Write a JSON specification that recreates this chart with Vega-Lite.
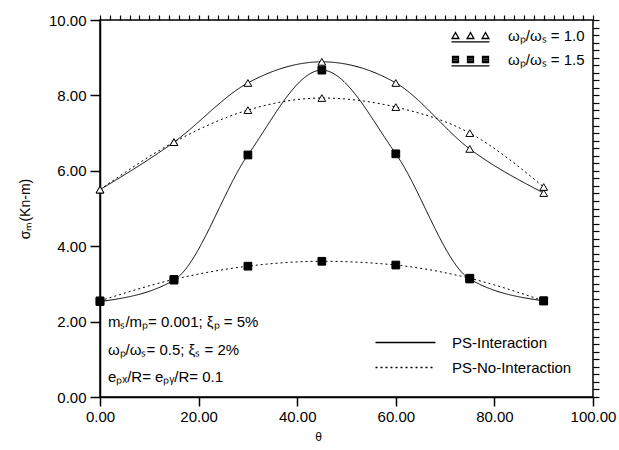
{
  "$schema": "https://vega.github.io/schema/vega-lite/v6.json",
  "width": 493,
  "height": 377,
  "autosize": "none",
  "padding": {"left": 100, "top": 20, "right": 26, "bottom": 53},
  "background": "white",
  "config": {
    "view": {"stroke": "black", "strokeWidth": 1.5},
    "font": "Liberation Sans",
    "axis": {"labelFont": "Liberation Sans", "titleFont": "Liberation Sans", "labelColor": "black", "titleColor": "black", "domainColor": "black", "domainWidth": 1.5, "grid": false, "labelFontSize": 15, "titleFontWeight": "normal", "labelFlush": false, "ticks": true, "tickColor": "black", "tickOpacity": 1, "tickDash": [], "tickCap": "butt", "tickOffset": 0, "zindex": 2},
    "legend": {"labelFont": "Liberation Sans", "labelFontSize": 15, "labelColor": "black", "labelLimit": 300}
  },
  "resolve": {"axis": {"x": "independent", "y": "independent"}, "scale": {"shape": "independent"}},
  "datasets": {
    "curves": [
      {"angle": 0, "sigma": 5.5, "ratio": "ωₚ/ωₛ = 1.0", "model": "PS-Interaction"},
      {"angle": 15, "sigma": 6.76, "ratio": "ωₚ/ωₛ = 1.0", "model": "PS-Interaction"},
      {"angle": 30, "sigma": 8.33, "ratio": "ωₚ/ωₛ = 1.0", "model": "PS-Interaction"},
      {"angle": 45, "sigma": 8.89, "ratio": "ωₚ/ωₛ = 1.0", "model": "PS-Interaction"},
      {"angle": 60, "sigma": 8.33, "ratio": "ωₚ/ωₛ = 1.0", "model": "PS-Interaction"},
      {"angle": 75, "sigma": 6.58, "ratio": "ωₚ/ωₛ = 1.0", "model": "PS-Interaction"},
      {"angle": 90, "sigma": 5.41, "ratio": "ωₚ/ωₛ = 1.0", "model": "PS-Interaction"},
      {"angle": 0, "sigma": 5.5, "ratio": "ωₚ/ωₛ = 1.0", "model": "PS-No-Interaction"},
      {"angle": 15, "sigma": 6.76, "ratio": "ωₚ/ωₛ = 1.0", "model": "PS-No-Interaction"},
      {"angle": 30, "sigma": 7.61, "ratio": "ωₚ/ωₛ = 1.0", "model": "PS-No-Interaction"},
      {"angle": 45, "sigma": 7.93, "ratio": "ωₚ/ωₛ = 1.0", "model": "PS-No-Interaction"},
      {"angle": 60, "sigma": 7.69, "ratio": "ωₚ/ωₛ = 1.0", "model": "PS-No-Interaction"},
      {"angle": 75, "sigma": 7.0, "ratio": "ωₚ/ωₛ = 1.0", "model": "PS-No-Interaction"},
      {"angle": 90, "sigma": 5.57, "ratio": "ωₚ/ωₛ = 1.0", "model": "PS-No-Interaction"},
      {"angle": 0, "sigma": 2.53, "ratio": "ωₚ/ωₛ = 1.5", "model": "PS-Interaction"},
      {"angle": 15, "sigma": 3.1, "ratio": "ωₚ/ωₛ = 1.5", "model": "PS-Interaction"},
      {"angle": 30, "sigma": 6.42, "ratio": "ωₚ/ωₛ = 1.5", "model": "PS-Interaction"},
      {"angle": 45, "sigma": 8.67, "ratio": "ωₚ/ωₛ = 1.5", "model": "PS-Interaction"},
      {"angle": 60, "sigma": 6.45, "ratio": "ωₚ/ωₛ = 1.5", "model": "PS-Interaction"},
      {"angle": 75, "sigma": 3.13, "ratio": "ωₚ/ωₛ = 1.5", "model": "PS-Interaction"},
      {"angle": 90, "sigma": 2.55, "ratio": "ωₚ/ωₛ = 1.5", "model": "PS-Interaction"},
      {"angle": 0, "sigma": 2.55, "ratio": "ωₚ/ωₛ = 1.5", "model": "PS-No-Interaction"},
      {"angle": 15, "sigma": 3.12, "ratio": "ωₚ/ωₛ = 1.5", "model": "PS-No-Interaction"},
      {"angle": 30, "sigma": 3.47, "ratio": "ωₚ/ωₛ = 1.5", "model": "PS-No-Interaction"},
      {"angle": 45, "sigma": 3.6, "ratio": "ωₚ/ωₛ = 1.5", "model": "PS-No-Interaction"},
      {"angle": 60, "sigma": 3.5, "ratio": "ωₚ/ωₛ = 1.5", "model": "PS-No-Interaction"},
      {"angle": 75, "sigma": 3.15, "ratio": "ωₚ/ωₛ = 1.5", "model": "PS-No-Interaction"},
      {"angle": 90, "sigma": 2.55, "ratio": "ωₚ/ωₛ = 1.5", "model": "PS-No-Interaction"}
    ],
    "notes": [
      {"angle": 1.6, "sigma": 1.99, "label": "mₛ/mₚ= 0.001; ξₚ = 5%"},
      {"angle": 1.6, "sigma": 1.25, "label": "ωₚ/ωₛ= 0.5; ξₛ = 2%"},
      {"angle": 1.6, "sigma": 0.53, "label": "eₚₓ/R= eₚᵧ/R= 0.1"}
    ]
  },
  "layer": [
    {
      "data": {"name": "curves"},
      "mark": {"type": "line", "color": "black", "strokeWidth": 1, "interpolate": "monotone"},
      "encoding": {
        "x": {
          "field": "angle", "type": "quantitative",
          "scale": {"domain": [0, 100], "nice": false, "zero": false},
          "axis": {
            "title": "θ", "titleFontSize": 12, "titleX": 218, "titleY": 34, "titleBaseline": "top",
            "values": [0, 20, 40, 60, 80, 100], "format": ".2f",
            "ticks": true, "tickColor": "black", "tickWidth": 1.5, "labelPadding": 3, "tickSize": 9
          }
        },
        "y": {
          "field": "sigma", "type": "quantitative",
          "scale": {"domain": [0, 10], "nice": false, "zero": false},
          "axis": {
            "title": "σₘ(Kn-m)", "titleFontSize": 14, "titlePadding": 16,
            "values": [0, 2, 4, 6, 8, 10], "format": ".2f",
            "ticks": true, "tickColor": "black", "tickWidth": 1.5, "labelPadding": 4, "tickSize": 10
          }
        },
        "detail": {"field": "ratio"},
        "strokeDash": {
          "field": "model", "type": "nominal",
          "scale": {"domain": ["PS-Interaction", "PS-No-Interaction"], "range": [[1, 0], [2, 3]]},
          "legend": {"title": null, "orient": "bottom-right", "offset": 21, "symbolType": "M-4,0H4", "symbolSize": 225, "symbolStrokeWidth": 1.5, "symbolStrokeColor": "black", "symbolFillColor": "transparent", "labelOffset": 38, "rowPadding": 8}
        }
      }
    },
    {
      "data": {"name": "curves"},
      "mark": {"type": "point", "filled": true, "stroke": "black", "strokeWidth": 1, "size": 60, "opacity": 1},
      "encoding": {
        "x": {
          "field": "angle", "type": "quantitative",
          "axis": {
            "title": null, "labels": false, "domain": false, "ticks": true, "tickColor": "black", "tickWidth": 1.2, "tickSize": 5,
            "values": [0,2,4,6,8,10,12,14,16,18,20,22,24,26,28,30,32,34,36,38,40,42,44,46,48,50,52,54,56,58,60,62,64,66,68,70,72,74,76,78,80,82,84,86,88,90,92,94,96,98,100]
          }
        },
        "y": {
          "field": "sigma", "type": "quantitative",
          "axis": {
            "title": null, "labels": false, "domain": false, "ticks": true, "tickColor": "black", "tickWidth": 1.2, "tickSize": 6,
            "values": [0,0.2,0.4,0.6,0.8,1,1.2,1.4,1.6,1.8,2,2.2,2.4,2.6,2.8,3,3.2,3.4,3.6,3.8,4,4.2,4.4,4.6,4.8,5,5.2,5.4,5.6,5.8,6,6.2,6.4,6.6,6.8,7,7.2,7.4,7.6,7.8,8,8.2,8.4,8.6,8.8,9,9.2,9.4,9.6,9.8,10]
          }
        },
        "shape": {
          "field": "ratio", "type": "nominal",
          "scale": {"domain": ["ωₚ/ωₛ = 1.0", "ωₚ/ωₛ = 1.5"], "range": ["triangle-up", "square"]},
          "legend": null
        },
        "fill": {
          "field": "ratio", "type": "nominal",
          "scale": {"domain": ["ωₚ/ωₛ = 1.0", "ωₚ/ωₛ = 1.5"], "range": ["white", "black"]},
          "legend": null
        }
      }
    },
    {
      "data": {"name": "curves"},
      "mark": {"type": "point", "filled": false, "stroke": "black", "strokeWidth": 1, "size": 1, "opacity": 0},
      "encoding": {
        "x": {"field": "angle", "type": "quantitative", "axis": null},
        "y": {"field": "sigma", "type": "quantitative", "axis": null},
        "shape": {
          "field": "ratio", "type": "nominal",
          "scale": {"domain": ["ωₚ/ωₛ = 1.0", "ωₚ/ωₛ = 1.5"], "range": [
            "M-4.6,0.75L-3.75,-0.75L-2.9,0.75Z M-0.85,0.75L0,-0.75L0.85,0.75Z M2.9,0.75L3.75,-0.75L4.6,0.75Z M-4.75,1.6H4.75",
            "M-4.5,-0.75H-3V0.75H-4.5Z M-4.5,-0.4H-3 M-4.5,0H-3 M-4.5,0.4H-3 M-0.75,-0.75H0.75V0.75H-0.75Z M-0.75,-0.4H0.75 M-0.75,0H0.75 M-0.75,0.4H0.75 M3,-0.75H4.5V0.75H3Z M3,-0.4H4.5 M3,0H4.5 M3,0.4H4.5 M-4.75,1.6H4.75"
          ]},
          "legend": {"title": null, "orient": "top-right", "offset": 8, "symbolSize": 64, "symbolOpacity": 1, "symbolStrokeColor": "black", "symbolFillColor": "transparent", "symbolStrokeWidth": 1.3, "labelOffset": 30, "rowPadding": 7}
        }
      }
    },
    {
      "data": {"name": "notes"},
      "mark": {"type": "text", "align": "left", "baseline": "middle", "fontSize": 15, "font": "Liberation Sans", "color": "black"},
      "encoding": {
        "x": {"field": "angle", "type": "quantitative", "axis": null},
        "y": {"field": "sigma", "type": "quantitative", "axis": null},
        "text": {"field": "label"}
      }
    }
  ]
}
